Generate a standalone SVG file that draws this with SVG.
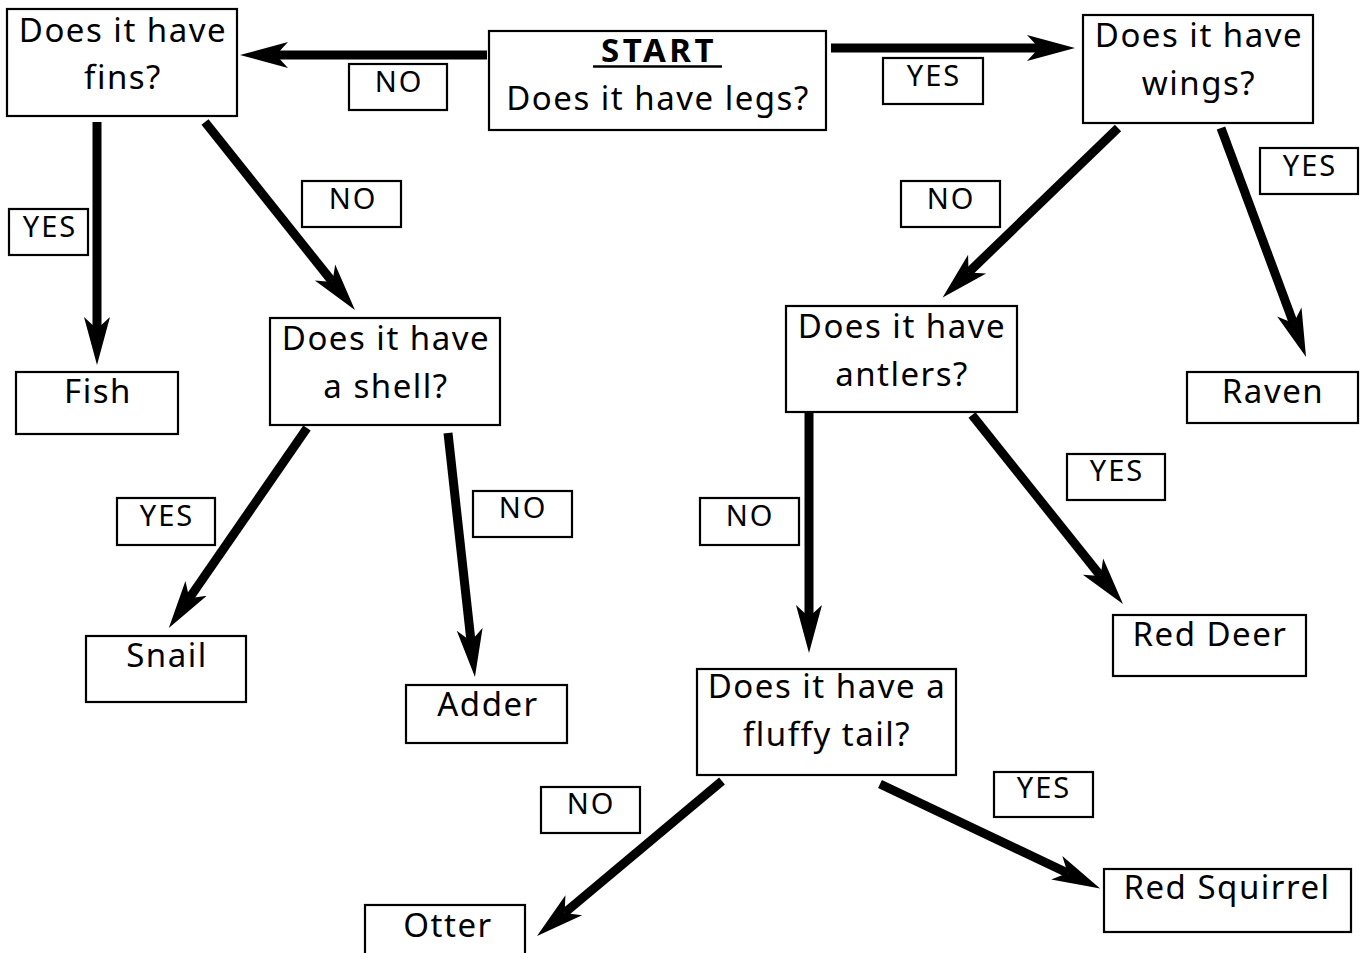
<svg xmlns="http://www.w3.org/2000/svg" width="1368" height="953" viewBox="0 0 1368 953">
<style>
  .box { fill: #fff; stroke: #000; stroke-width: 2.2; }
  .t { font-family: "Comic Sans MS", "Noto Sans", "DejaVu Sans", sans-serif; font-size: 33px; letter-spacing: 1.5px; fill: #000; text-anchor: middle; }
  .lbl { font-family: "Comic Sans MS", "Noto Sans", "DejaVu Sans", sans-serif; font-size: 29px; letter-spacing: 2px; fill: #000; text-anchor: middle; }
  .b { font-weight: bold; letter-spacing: 3.5px; }
  .arrow { stroke: #000; stroke-width: 9; fill: none; marker-end: url(#head); }
</style>
<defs>
  <marker id="head" markerUnits="userSpaceOnUse" markerWidth="50" markerHeight="30" viewBox="0 -15 50 30" refX="12" refY="0" orient="auto">
    <path d="M48,0 L0,-13 L12,0 L0,13 Z" fill="#000"/>
  </marker>
</defs>
<rect width="1368" height="953" fill="#fff"/>

<g id="connectors">
  <line class="arrow" x1="487" y1="55" x2="276" y2="55"/>
  <line class="arrow" x1="831" y1="48" x2="1039" y2="48"/>
  <line class="arrow" x1="97" y1="122" x2="97" y2="329"/>
  <line class="arrow" x1="205" y1="122" x2="332.5" y2="281.9"/>
  <line class="arrow" x1="1118" y1="128" x2="968.5" y2="272.5"/>
  <line class="arrow" x1="1221" y1="128" x2="1293.5" y2="323.2"/>
  <line class="arrow" x1="307" y1="428" x2="189.3" y2="598.3"/>
  <line class="arrow" x1="448" y1="433" x2="471" y2="641.2"/>
  <line class="arrow" x1="809" y1="412" x2="809" y2="617"/>
  <line class="arrow" x1="972" y1="415" x2="1100.5" y2="575.9"/>
  <line class="arrow" x1="722" y1="781" x2="564.6" y2="912.9"/>
  <line class="arrow" x1="880" y1="784" x2="1067.6" y2="873"/>
</g>

<g id="start">
  <rect class="box" x="489" y="31" width="337" height="99"/>
  <text class="t b" x="659" y="62">START</text>
  <line x1="593" y1="66.5" x2="722" y2="66.5" stroke="#000" stroke-width="2.5"/>
  <text class="t" x="658" y="110">Does it have legs?</text>
</g>
<g id="fins">
  <rect class="box" x="7" y="9" width="230" height="107"/>
  <text class="t" x="123" y="42">Does it have</text>
  <text class="t" x="123" y="89">fins?</text>
</g>
<g id="wings">
  <rect class="box" x="1083" y="15" width="230" height="108"/>
  <text class="t" x="1199" y="47">Does it have</text>
  <text class="t" x="1199" y="95">wings?</text>
</g>
<g id="fish">
  <rect class="box" x="16" y="372" width="162" height="62"/>
  <text class="t" x="98" y="403">Fish</text>
</g>
<g id="shell">
  <rect class="box" x="270" y="318" width="230" height="107"/>
  <text class="t" x="386" y="350">Does it have</text>
  <text class="t" x="386" y="398">a shell?</text>
</g>
<g id="antlers">
  <rect class="box" x="786" y="306" width="231" height="106"/>
  <text class="t" x="902" y="338">Does it have</text>
  <text class="t" x="902" y="386">antlers?</text>
</g>
<g id="raven">
  <rect class="box" x="1187" y="372" width="171" height="51"/>
  <text class="t" x="1273" y="403">Raven</text>
</g>
<g id="snail">
  <rect class="box" x="86" y="636" width="160" height="66"/>
  <text class="t" x="167" y="667">Snail</text>
</g>
<g id="adder">
  <rect class="box" x="406" y="685" width="161" height="58"/>
  <text class="t" x="488" y="716">Adder</text>
</g>
<g id="reddeer">
  <rect class="box" x="1113" y="615" width="193" height="61"/>
  <text class="t" x="1210" y="646">Red Deer</text>
</g>
<g id="fluffy">
  <rect class="box" x="697" y="669" width="259" height="106"/>
  <text class="t" x="827" y="698">Does it have a</text>
  <text class="t" x="827" y="746">fluffy tail?</text>
</g>
<g id="otter">
  <rect class="box" x="365" y="905" width="160" height="60"/>
  <text class="t" x="448" y="937">Otter</text>
</g>
<g id="redsquirrel">
  <rect class="box" x="1104" y="869" width="247" height="63"/>
  <text class="t" x="1227" y="899">Red Squirrel</text>
</g>

<g id="labels">
  <g id="lbl-no-fins"><rect class="box" x="349" y="64" width="98" height="46"/><text class="lbl" x="399" y="92">NO</text></g>
  <g id="lbl-yes-wings"><rect class="box" x="883" y="58" width="100" height="46"/><text class="lbl" x="934" y="86">YES</text></g>
  <g id="lbl-yes-fish"><rect class="box" x="9" y="209" width="79" height="46"/><text class="lbl" x="50" y="237">YES</text></g>
  <g id="lbl-no-shell"><rect class="box" x="302" y="181" width="99" height="46"/><text class="lbl" x="353" y="209">NO</text></g>
  <g id="lbl-no-antlers"><rect class="box" x="901" y="181" width="99" height="46"/><text class="lbl" x="951" y="209">NO</text></g>
  <g id="lbl-yes-raven"><rect class="box" x="1260" y="148" width="98" height="46"/><text class="lbl" x="1310" y="176">YES</text></g>
  <g id="lbl-yes-snail"><rect class="box" x="117" y="498" width="98" height="47"/><text class="lbl" x="167" y="526">YES</text></g>
  <g id="lbl-no-adder"><rect class="box" x="473" y="491" width="99" height="46"/><text class="lbl" x="523" y="518">NO</text></g>
  <g id="lbl-no-fluffy"><rect class="box" x="700" y="498" width="99" height="47"/><text class="lbl" x="750" y="526">NO</text></g>
  <g id="lbl-yes-deer"><rect class="box" x="1067" y="454" width="98" height="46"/><text class="lbl" x="1117" y="481">YES</text></g>
  <g id="lbl-no-otter"><rect class="box" x="541" y="787" width="99" height="46"/><text class="lbl" x="591" y="814">NO</text></g>
  <g id="lbl-yes-squirrel"><rect class="box" x="994" y="772" width="99" height="45"/><text class="lbl" x="1044" y="798">YES</text></g>
</g>
</svg>
